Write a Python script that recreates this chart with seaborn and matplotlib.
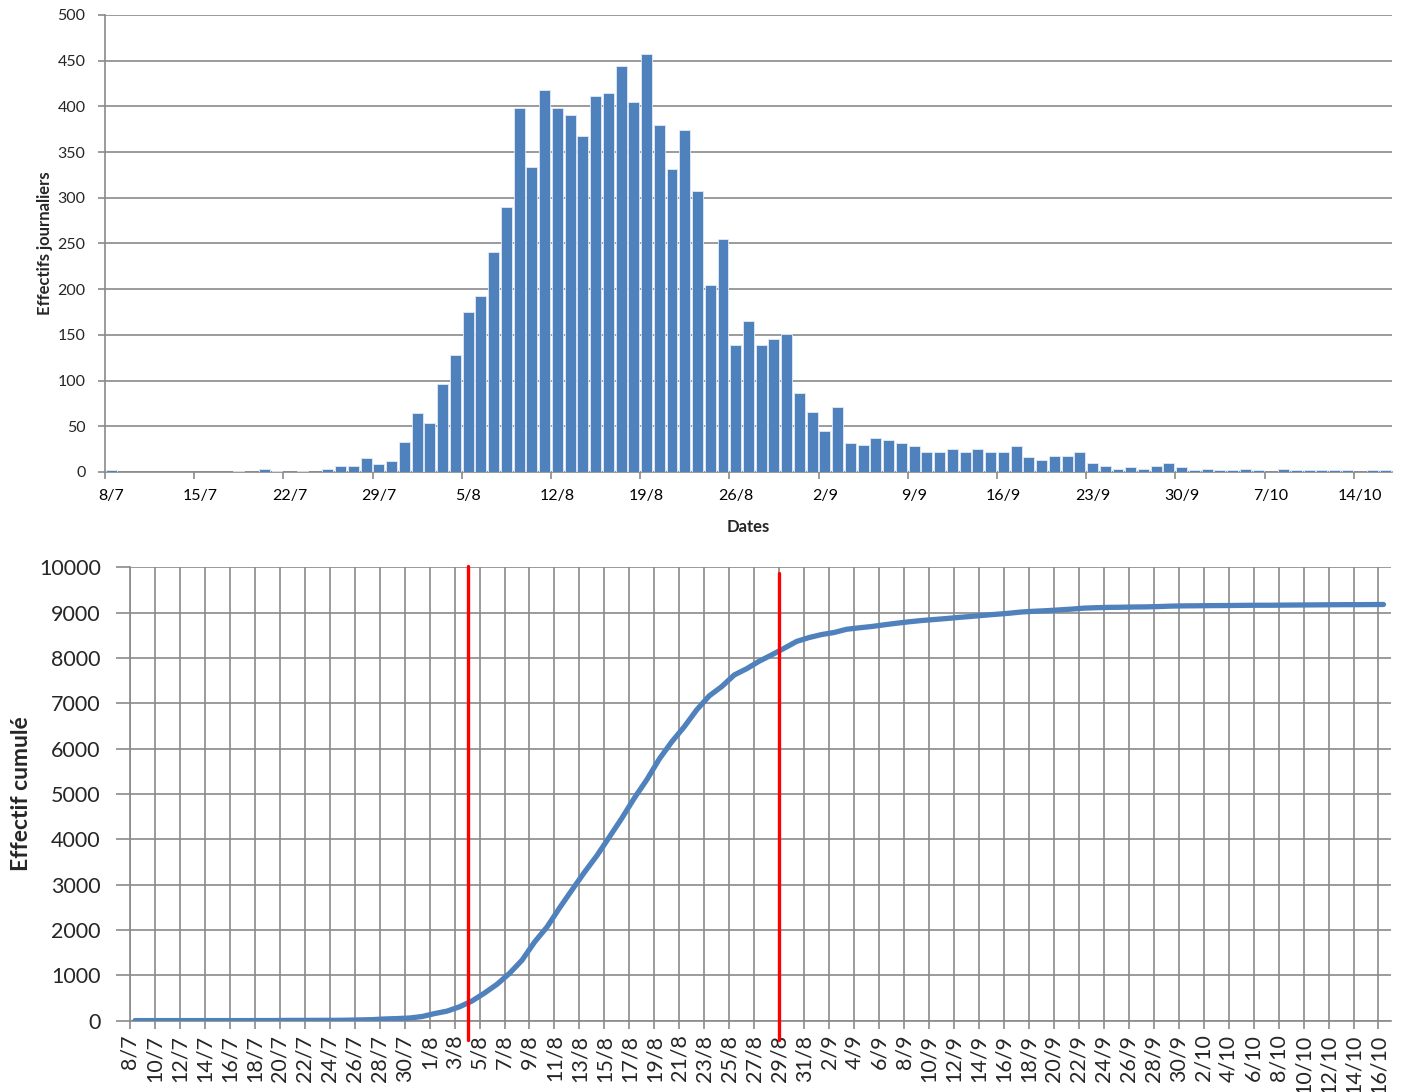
import numpy as np
import pandas as pd
import matplotlib
matplotlib.use("Agg")
import matplotlib.pyplot as plt
import matplotlib.transforms as mtransforms
from matplotlib.ticker import FixedLocator, NullFormatter
import seaborn as sns

# ---------------- data ----------------
start_date = "2009-07-08"
n_days = 101

daily_counts = [
    2, 0, 0, 0, 0, 0, 0, 0, 0, 0,
    1, 0, 3, 1, 0, 1, 0, 3, 6, 6,
    15, 9, 12, 33, 65, 54, 96, 128, 175, 193,
    241, 290, 398, 334, 418, 398, 391, 368, 411, 415,
    444, 405, 457, 380, 331, 374, 307, 205, 255, 139,
    165, 139, 146, 151, 86, 66, 45, 71, 32, 29,
    37, 35, 32, 28, 22, 22, 25, 22, 25, 22,
    22, 28, 16, 13, 17, 17, 22, 10, 7, 3,
    5, 3, 7, 10, 5, 2, 3, 2, 2, 3,
    2, 0, 3, 2, 2, 2, 2, 2, 0, 2,
    2,
]

cumulative_counts = [
    2, 2, 2, 2, 2, 2, 2, 2, 2, 2,
    3, 3, 6, 7, 7, 8, 8, 11, 17, 23,
    38, 47, 59, 92, 157, 211, 307, 435, 610, 803,
    1044, 1334, 1732, 2066, 2484, 2882, 3273, 3641, 4052, 4467,
    4911, 5316, 5773, 6153, 6484, 6858, 7165, 7370, 7625, 7764,
    7929, 8068, 8214, 8365, 8451, 8517, 8562, 8633, 8665, 8694,
    8731, 8766, 8798, 8826, 8848, 8870, 8895, 8917, 8942, 8964,
    8986, 9014, 9030, 9043, 9060, 9077, 9099, 9109, 9116, 9119,
    9124, 9127, 9134, 9144, 9149, 9151, 9154, 9156, 9158, 9161,
    9163, 9163, 9166, 9168, 9170, 9172, 9174, 9176, 9176, 9178,
    9180,
]

# days (index from 8/7) where the red reference lines are drawn
red_line_days = [27.1, 52.0]

dates = pd.date_range(start_date, periods=n_days, freq="D")
date_labels = [f"{d.day}/{d.month}" for d in dates]
day_index = np.arange(n_days)

df = pd.DataFrame({"date": date_labels, "day": day_index,
                   "daily": daily_counts, "cumul": cumulative_counts})

# ---------------- style ----------------
sns.set_theme(style="white")
plt.rcParams["font.family"] = ["Lato", "DejaVu Sans"]
GRID = "#8a8a8a"
BLUE = "#4F81BD"

fig = plt.figure(figsize=(14.11, 10.92), dpi=100)

# ================= top: daily bars =================
ax1 = fig.add_axes([0.0744, 0.5678, 0.9121, 0.4185])
sns.barplot(data=df, x="date", y="daily", ax=ax1, color=BLUE, saturation=1,
            width=0.86, edgecolor="#e3eaf4", linewidth=0.6, zorder=3)
ax1.set_xlim(-0.5, n_days - 0.5)
ax1.set_ylim(0, 500)
ax1.set_axisbelow(True)
ax1.yaxis.set_major_locator(FixedLocator(np.arange(0, 501, 50)))
ax1.grid(axis="y", color=GRID, linewidth=1.2)
ax1.grid(axis="x", visible=False)

lab_pos = np.arange(0, n_days, 7)
ax1.xaxis.set_major_locator(FixedLocator(lab_pos))
ax1.set_xticklabels([date_labels[i] for i in lab_pos])
ax1.xaxis.set_minor_locator(FixedLocator(lab_pos - 0.5))
ax1.xaxis.set_minor_formatter(NullFormatter())
ax1.tick_params(axis="x", which="major", length=0, pad=12, labelsize=11.5,
                colors="black")
ax1.tick_params(axis="x", which="minor", length=5, width=1.2, color=GRID,
                bottom=True)
ax1.tick_params(axis="y", which="major", length=5, width=1.2, color=GRID,
                pad=9, labelsize=11.5, left=True)
for s in ["top", "right"]:
    ax1.spines[s].set_visible(False)
for s in ["left", "bottom"]:
    ax1.spines[s].set_color(GRID)
    ax1.spines[s].set_linewidth(1.2)

ax1.set_xlabel("Dates", fontsize=12, fontweight="bold")
ax1.xaxis.set_label_coords(0.5, -0.102)
ax1.set_ylabel("Effectifs journaliers", fontsize=12, fontweight="bold")
ax1.yaxis.set_label_coords(-0.040, 0.5)

# ================= bottom: cumulative line =================
ax2 = fig.add_axes([0.0921, 0.0653, 0.8937, 0.4152])
sns.lineplot(data=df, x="day", y="cumul", ax=ax2, color=BLUE,
             linewidth=3.8, zorder=3, solid_capstyle="round")
# Excel draws the points slightly right of the gridlines
shift = mtransforms.ScaledTranslation(0.05, 0, fig.dpi_scale_trans)
for ln in ax2.lines:
    ln.set_transform(ln.get_transform() + shift)
ax2.set_xlim(0, n_days)
ax2.set_ylim(0, 10000)
ax2.set_axisbelow(True)
even_days = np.arange(0, n_days, 2)
ax2.xaxis.set_major_locator(FixedLocator(even_days))
ax2.set_xticklabels([date_labels[i] for i in even_days], rotation=90)
lab_shift = mtransforms.ScaledTranslation(0.05, 0, fig.dpi_scale_trans)
for lab in ax2.get_xticklabels():
    lab.set_transform(lab.get_transform() + lab_shift)
ax2.yaxis.set_major_locator(FixedLocator(np.arange(0, 10001, 1000)))
ax2.grid(True, color=GRID, linewidth=1.2)
ax2.tick_params(axis="x", length=6, width=1.2, color=GRID, pad=4,
                labelsize=15.5, bottom=True)
ax2.tick_params(axis="y", length=10, width=1.2, color=GRID, pad=11,
                labelsize=15.5, left=True)
for s in ["top", "right"]:
    ax2.spines[s].set_visible(False)
for s in ["left", "bottom"]:
    ax2.spines[s].set_color(GRID)
    ax2.spines[s].set_linewidth(1.2)
ax2.set_xlabel("")
ax2.set_ylabel("Effectif cumulé", fontsize=16.5, fontweight="bold")
ax2.yaxis.set_label_coords(-0.078, 0.5)

trans = mtransforms.blended_transform_factory(ax2.transData, ax2.transAxes)
tops = [1.003, 0.987]
for xd, yt in zip(red_line_days, tops):
    ax2.plot([xd, xd], [-0.043, yt], color="#FF0000", linewidth=2.4,
             transform=trans, clip_on=False, zorder=5)

fig.savefig("out.png", dpi=100)
